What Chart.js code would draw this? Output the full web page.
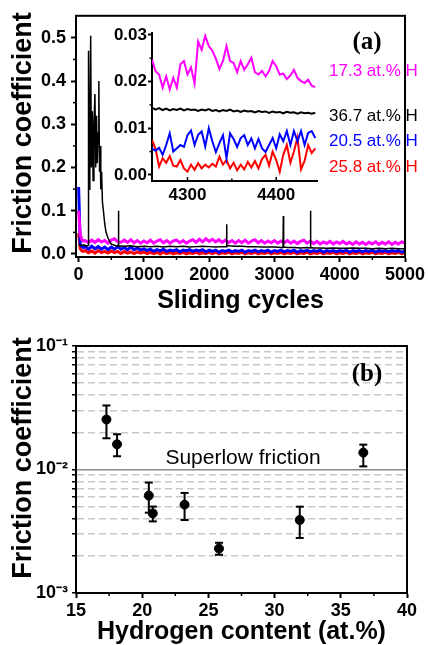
<!DOCTYPE html>
<html>
<head>
<meta charset="utf-8">
<script src="https://cdn.jsdelivr.net/npm/chart.js@4.4.0/dist/chart.umd.min.js"></script>
<style>
  html, body { margin: 0; padding: 0; background: #fff; }
  body { width: 428px; height: 645px; position: relative; overflow: hidden; font-family: "Liberation Sans", Arial, sans-serif; }
  .box { position: absolute; }
  .lbl { position: absolute; white-space: nowrap; line-height: 1; }
  .center { transform: translate(-50%, -50%); }
  .left { transform: translateY(-50%); }
  .ytitle { position: absolute; white-space: nowrap; line-height: 1; font-weight: bold; font-size: 27px; transform: translate(-50%, -50%) rotate(-90deg); }
  .series { font-size: 17px; }
  .panel { font-family: "Liberation Serif", "Times New Roman", serif; font-weight: bold; font-size: 25px; }
</style>
</head>
<body>
<div class="box" style="left:0;top:0"><canvas id="cycles-chart" width="428" height="320"></canvas></div>
<div class="box" style="left:90px;top:18px"><canvas id="inset-chart" width="240" height="190"></canvas></div>
<div class="box" style="left:0;top:320px"><canvas id="hydrogen-chart" width="428" height="325"></canvas></div>

<div class="ytitle" style="left:22px;top:133px">Friction coefficient</div>
<div class="ytitle" style="left:22px;top:458px">Friction coefficient</div>

<div class="lbl panel center" style="left:367px;top:40px">(a)</div>
<div class="lbl panel center" style="left:367px;top:372px">(b)</div>

<div class="lbl series left" style="left:329px;top:70px;color:#ff00ff">17.3 at.% H</div>
<div class="lbl series left" style="left:329px;top:115px;color:#000">36.7 at.% H</div>
<div class="lbl series left" style="left:329px;top:140px;color:#0000ff">20.5 at.% H</div>
<div class="lbl series left" style="left:329px;top:166px;color:#ff0000">25.8 at.% H</div>

<div class="lbl center" style="left:243px;top:456px;font-size:21px">Superlow friction</div>

<script>
const FONT = "'Liberation Sans', Arial, sans-serif";
Chart.defaults.font.family = FONT;
Chart.defaults.color = "#000";

// ---- panel (a): friction vs sliding cycles ----
const mainXTicks = [0, 1000, 2000, 3000, 4000, 5000];
const mainXMinor = [500, 1500, 2500, 3500, 4500];
const mainYTicks = [0, 0.1, 0.2, 0.3, 0.4, 0.5];
const mainYMinor = [0.05, 0.15, 0.25, 0.35, 0.45];

// cycle grid shared by the magenta / blue / red runs
const mainCycles = [0, 25, 50, 75];
for (let c = 100; c <= 5000; c += 50) mainCycles.push(c);

// 17.3 at.% H
const magentaCof = [
  0.100, 0.045, 0.033, 0.030,
  0.031, 0.026, 0.032, 0.027, 0.033, 0.028, 0.031, 0.025, 0.032, 0.035, 0.028, 0.027, 0.032, 0.027, 0.033, 0.026, 0.031, 0.025, 0.030,
  0.026, 0.032, 0.025, 0.030, 0.033, 0.026, 0.031, 0.025, 0.030, 0.032, 0.026, 0.031, 0.025, 0.030, 0.033, 0.027, 0.034, 0.028, 0.035, 0.029,
  0.034, 0.028, 0.033, 0.027, 0.032, 0.026, 0.031, 0.025, 0.031, 0.026, 0.032, 0.025, 0.030, 0.033, 0.026, 0.031, 0.025, 0.030, 0.026, 0.031,
  0.025, 0.030, 0.026, 0.031, 0.025, 0.030, 0.024, 0.029, 0.032, 0.025, 0.030, 0.024, 0.029, 0.023, 0.028, 0.024, 0.029, 0.023, 0.028, 0.024,
  0.029, 0.023, 0.027, 0.022, 0.028, 0.023, 0.027, 0.022, 0.027, 0.023, 0.028, 0.022, 0.027, 0.023, 0.028, 0.022, 0.027, 0.023, 0.028, 0.025
];
// 20.5 at.% H
const blueCof = [
  0.155, 0.022, 0.017, 0.015,
  0.017, 0.011, 0.018, 0.012, 0.017, 0.011, 0.016, 0.010, 0.016, 0.011, 0.017, 0.011, 0.015, 0.010, 0.016, 0.010, 0.014, 0.009, 0.012,
  0.008, 0.011, 0.006, 0.010, 0.007, 0.011, 0.006, 0.009, 0.007, 0.010, 0.005, 0.009, 0.007, 0.010, 0.006, 0.009, 0.007, 0.010, 0.005, 0.009,
  0.006, 0.009, 0.004, 0.008, 0.006, 0.009, 0.005, 0.008, 0.006, 0.009, 0.004, 0.008, 0.006, 0.009, 0.005, 0.008, 0.006, 0.009, 0.004, 0.008,
  0.006, 0.009, 0.005, 0.008, 0.006, 0.009, 0.004, 0.008, 0.006, 0.009, 0.005, 0.008, 0.006, 0.009, 0.004, 0.008, 0.006, 0.008, 0.005, 0.008,
  0.006, 0.009, 0.004, 0.008, 0.006, 0.008, 0.005, 0.008, 0.006, 0.009, 0.004, 0.008, 0.006, 0.008, 0.005, 0.008, 0.006, 0.008, 0.004, 0.007
];
// 25.8 at.% H
const redCof = [
  0.048, 0.012, 0.007, 0.006,
  0.008, 0.003, 0.007, 0.002, 0.008, 0.003, 0.006, 0.002, 0.007, 0.003, 0.006, 0.001, 0.006, 0.002, 0.005, 0.001, 0.005, 0.002, 0.005,
  0.001, 0.004, 0.001, 0.004, 0.000, 0.004, 0.001, 0.004, 0.000, 0.003, 0.001, 0.004, 0.000, 0.003, 0.001, 0.004, 0.000, 0.003, 0.001, 0.004,
  0.001, 0.004, 0.000, 0.003, 0.001, 0.004, 0.000, 0.003, 0.001, 0.004, 0.000, 0.003, 0.001, 0.004, 0.000, 0.003, 0.001, 0.004, 0.000, 0.003,
  0.001, 0.004, 0.000, 0.003, 0.001, 0.004, 0.000, 0.003, 0.001, 0.004, 0.000, 0.003, 0.001, 0.004, 0.000, 0.003, 0.001, 0.004, 0.000, 0.003,
  0.001, 0.004, 0.000, 0.003, 0.001, 0.004, 0.000, 0.003, 0.001, 0.004, 0.000, 0.003, 0.001, 0.004, 0.000, 0.003, 0.001, 0.004, 0.000, 0.003
];
// 36.7 at.% H (running-in peak and spikes)
const blackCycles = [
  0, 40, 80, 120, 145, 152, 160, 172, 185, 195, 210, 222, 235, 250, 262, 275, 285, 298, 310, 320,
  330, 340, 352, 365, 380, 400, 420, 450, 480, 500, 550, 600, 605, 610, 615, 700, 800, 900, 1000, 1100,
  1200, 1300, 1400, 1500, 1600, 1700, 1800, 1900, 2000, 2100, 2200, 2262, 2267, 2272, 2300, 2400, 2500, 2600, 2700, 2800,
  2900, 3000, 3100, 3131, 3136, 3141, 3200, 3300, 3400, 3500, 3547, 3552, 3557, 3600, 3700, 3800, 3900, 4000, 4100, 4200,
  4300, 4400, 4500, 4600, 4700, 4800, 4900, 5000
];
const blackCof = [
  0.022, 0.019, 0.021, 0.018, 0.020, 0.470, 0.150, 0.260, 0.505, 0.200, 0.330, 0.170, 0.300, 0.370, 0.200, 0.320, 0.210, 0.280, 0.400, 0.190,
  0.250, 0.150, 0.190, 0.120, 0.100, 0.070, 0.050, 0.037, 0.028, 0.023, 0.020, 0.018, 0.020, 0.100, 0.019, 0.018, 0.019, 0.017, 0.018, 0.017,
  0.018, 0.016, 0.018, 0.017, 0.018, 0.016, 0.017, 0.018, 0.017, 0.016, 0.017, 0.017, 0.069, 0.020, 0.019, 0.018, 0.018, 0.017, 0.017, 0.016,
  0.016, 0.016, 0.015, 0.015, 0.088, 0.016, 0.015, 0.015, 0.014, 0.015, 0.014, 0.100, 0.015, 0.014, 0.014, 0.013, 0.014, 0.013, 0.013, 0.014,
  0.013, 0.013, 0.012, 0.013, 0.012, 0.013, 0.012, 0.012
];

// ---- inset: zoom on 4260-4446 cycles ----
const insetXTicks = [4300, 4400];
const insetXMinor = [4350];
const insetYTicks = [0, 0.01, 0.02, 0.03];
const insetYMinor = [0.005, 0.015, 0.025];
const insetCycles = [];
for (let c = 4260; c <= 4444; c += 4) insetCycles.push(c);

const insetMagenta = [
  0.0247, 0.0222, 0.0215, 0.0187, 0.0211, 0.0183, 0.0208, 0.0187, 0.0237, 0.0244,
  0.0215, 0.0230, 0.0196, 0.0286, 0.0268, 0.0298, 0.0276, 0.0266, 0.0249, 0.0227,
  0.0244, 0.0276, 0.0244, 0.0240, 0.0220, 0.0244, 0.0225, 0.0237, 0.0251, 0.0220,
  0.0215, 0.0223, 0.0211, 0.0223, 0.0244, 0.0233, 0.0215, 0.0217, 0.0205, 0.0213,
  0.0225, 0.0208, 0.0201, 0.0197, 0.0204, 0.0191, 0.0188
];
const insetBlack = [
  0.0144, 0.0140, 0.0143, 0.0139, 0.0142, 0.0138, 0.0141, 0.0139, 0.0142, 0.0138,
  0.0141, 0.0139, 0.0140, 0.0137, 0.0140, 0.0138, 0.0141, 0.0137, 0.0139, 0.0136,
  0.0139, 0.0137, 0.0140, 0.0136, 0.0138, 0.0135, 0.0138, 0.0136, 0.0137, 0.0134,
  0.0137, 0.0135, 0.0136, 0.0133, 0.0136, 0.0134, 0.0135, 0.0132, 0.0135, 0.0133,
  0.0134, 0.0131, 0.0134, 0.0132, 0.0133, 0.0131, 0.0133
];
const insetBlue = [
  0.0057, 0.0052, 0.0058, 0.0043, 0.0064, 0.0089, 0.0050, 0.0057, 0.0064, 0.0060,
  0.0085, 0.0095, 0.0064, 0.0086, 0.0093, 0.0061, 0.0100, 0.0072, 0.0049, 0.0068,
  0.0085, 0.0036, 0.0089, 0.0077, 0.0060, 0.0079, 0.0085, 0.0064, 0.0078, 0.0057,
  0.0077, 0.0057, 0.0049, 0.0064, 0.0079, 0.0057, 0.0087, 0.0072, 0.0094, 0.0064,
  0.0094, 0.0072, 0.0094, 0.0064, 0.0090, 0.0094, 0.0079
];
const insetRed = [
  0.0075, 0.0056, 0.0018, 0.0036, 0.0026, 0.0040, 0.0020, 0.0018, 0.0032, 0.0014,
  0.0007, 0.0022, 0.0011, 0.0025, 0.0014, 0.0022, 0.0016, 0.0024, 0.0018, 0.0039,
  0.0022, 0.0032, 0.0014, 0.0026, 0.0010, 0.0022, 0.0012, 0.0028, 0.0016, 0.0030,
  0.0014, 0.0034, 0.0043, 0.0020, 0.0050, 0.0032, 0.0007, 0.0043, 0.0064, 0.0026,
  0.0050, 0.0080, 0.0012, 0.0030, 0.0064, 0.0047, 0.0057
];

// ---- panel (b): friction vs hydrogen content ----
const hContent = [17.3, 18.1, 20.5, 20.8, 23.2, 25.8, 31.9, 36.7];
const hCof = [0.0254, 0.0160, 0.00615, 0.00441, 0.00519, 0.00229, 0.0039, 0.0137];
const hCofHigh = [0.0330, 0.0193, 0.00784, 0.00501, 0.00646, 0.00255, 0.0050, 0.0159];
const hCofLow = [0.0179, 0.0128, 0.00447, 0.00380, 0.00390, 0.00204, 0.00279, 0.0106];
const hXTicks = [15, 20, 25, 30, 35, 40];
const hXMinor = [17.5, 22.5, 27.5, 32.5, 37.5];
const hYTicks = [0.001, 0.002, 0.003, 0.004, 0.005, 0.006, 0.007, 0.008, 0.009,
  0.01, 0.02, 0.03, 0.04, 0.05, 0.06, 0.07, 0.08, 0.09, 0.1];
const hYLabels = ["10\u207B\u00B3", "", "", "", "", "", "", "", "",
  "10\u207B\u00B2", "", "", "", "", "", "", "", "", "10\u207B\u00B9"];

const tickFont = { family: FONT, size: 18, weight: "bold" };
const titleFont = { family: FONT, size: 25, weight: "bold" };

function pairs(xs, ys) {
  return xs.map((x, i) => ({ x: x, y: ys[i] }));
}

// draws a closed frame round the plot area
const frameBox = {
  id: "frameBox",
  afterDraw(chart, args, opts) {
    const ctx = chart.ctx;
    const a = chart.chartArea;
    ctx.save();
    ctx.lineWidth = opts.width || 2;
    ctx.strokeStyle = "#000";
    ctx.strokeRect(a.left, a.top, a.right - a.left, a.bottom - a.top);
    ctx.restore();
  }
};

// short extra tick marks (Chart.js has no minor ticks)
const minorTicks = {
  id: "minorTicks",
  afterDraw(chart, args, opts) {
    const ctx = chart.ctx;
    const a = chart.chartArea;
    ctx.save();
    ctx.strokeStyle = "#000";
    ctx.lineWidth = 1.5;
    (opts.marks || []).forEach((m) => {
      const scale = chart.scales[m.axis];
      m.values.forEach((v) => {
        const p = scale.getPixelForValue(v);
        ctx.beginPath();
        if (scale.isHorizontal()) {
          ctx.moveTo(p, a.bottom);
          ctx.lineTo(p, a.bottom + m.dir * m.len);
        } else {
          ctx.moveTo(a.left, p);
          ctx.lineTo(a.left - m.dir * m.len, p);
        }
        ctx.stroke();
      });
    });
    ctx.restore();
  }
};

function axisBase(extra) {
  return Object.assign({
    grid: { drawOnChartArea: false, drawTicks: true, tickLength: 5, tickColor: "#000", tickWidth: 2 },
    border: { color: "#000", width: 2 },
    ticks: { color: "#000", font: tickFont, maxRotation: 0, autoSkip: false }
  }, extra);
}

const plainNumber = (v) => String(v);

// chart for panel (a)
const cyclesChart = new Chart(document.getElementById("cycles-chart"), {
  type: "line",
  data: {
    datasets: [
      { label: "36.7 at.% H", data: pairs(blackCycles, blackCof), borderColor: "#000", borderWidth: 1.5 },
      { label: "17.3 at.% H", data: pairs(mainCycles, magentaCof), borderColor: "#ff00ff", borderWidth: 3 },
      { label: "20.5 at.% H", data: pairs(mainCycles, blueCof), borderColor: "#0000ff", borderWidth: 3 },
      { label: "25.8 at.% H", data: pairs(mainCycles, redCof), borderColor: "#ff0000", borderWidth: 3 }
    ]
  },
  options: {
    responsive: false,
    animation: false,
    elements: { point: { radius: 0 }, line: { tension: 0 } },
    layout: { padding: { left: 0, right: 23, top: 15, bottom: 0 } },
    plugins: {
      legend: { display: false },
      tooltip: { enabled: false },
      minorTicks: { marks: [
        { axis: "x", values: mainXMinor, len: 3, dir: 1 },
        { axis: "y", values: mainYMinor, len: 3, dir: 1 }
      ] }
    },
    scales: {
      x: axisBase({
        type: "linear", min: -40, max: 5000,
        afterBuildTicks: (s) => { s.ticks = mainXTicks.map((v) => ({ value: v })); },
        afterFit: (s) => { s.height = 63; },
        ticks: { color: "#000", font: tickFont, maxRotation: 0, autoSkip: false, padding: 2, callback: plainNumber },
        title: { display: true, text: "Sliding cycles", color: "#000", font: titleFont, padding: { top: 0, bottom: 4 } }
      }),
      y: axisBase({
        type: "linear", min: -0.007, max: 0.551,
        afterBuildTicks: (s) => { s.ticks = mainYTicks.map((v) => ({ value: v })); },
        afterFit: (s) => { s.width = 76; },
        ticks: { color: "#000", font: tickFont, padding: 5, callback: (v) => Number(v).toFixed(1) }
      })
    }
  },
  plugins: [minorTicks, frameBox]
});

// inset chart, laid over panel (a)
const insetChart = new Chart(document.getElementById("inset-chart"), {
  type: "line",
  data: {
    datasets: [
      { label: "36.7 at.% H", data: pairs(insetCycles, insetBlack), borderColor: "#000", borderWidth: 2 },
      { label: "17.3 at.% H", data: pairs(insetCycles, insetMagenta), borderColor: "#ff00ff", borderWidth: 2 },
      { label: "20.5 at.% H", data: pairs(insetCycles, insetBlue), borderColor: "#0000ff", borderWidth: 2 },
      { label: "25.8 at.% H", data: pairs(insetCycles, insetRed), borderColor: "#ff0000", borderWidth: 2 }
    ]
  },
  options: {
    responsive: false,
    animation: false,
    elements: { point: { radius: 0 }, line: { tension: 0 } },
    layout: { padding: { left: 0, right: 13, top: 15, bottom: 0 } },
    plugins: {
      legend: { display: false },
      tooltip: { enabled: false },
      minorTicks: { marks: [
        { axis: "x", values: insetXTicks, len: 4, dir: -1 },
        { axis: "x", values: insetXMinor, len: 2.5, dir: -1 },
        { axis: "y", values: insetYMinor, len: 2.5, dir: 1 }
      ] }
    },
    scales: {
      x: axisBase({
        type: "linear", min: 4260, max: 4446,
        afterBuildTicks: (s) => { s.ticks = insetXTicks.map((v) => ({ value: v })); },
        afterFit: (s) => { s.height = 27; },
        grid: { drawOnChartArea: false, drawTicks: false },
        ticks: { color: "#000", font: { family: FONT, size: 17, weight: "bold" }, maxRotation: 0, autoSkip: false, padding: 4, callback: plainNumber }
      }),
      y: axisBase({
        type: "linear", min: -0.0013, max: 0.0304,
        afterBuildTicks: (s) => { s.ticks = insetYTicks.map((v) => ({ value: v })); },
        afterFit: (s) => { s.width = 62; },
        grid: { drawOnChartArea: false, drawTicks: true, tickLength: 4, tickColor: "#000", tickWidth: 2 },
        ticks: { color: "#000", font: { family: FONT, size: 17, weight: "bold" }, padding: 1, callback: (v) => Number(v).toFixed(2) }
      })
    }
  },
  plugins: [minorTicks]
});

// chart for panel (b): error bars as two-point lines with flat caps
const errorBars = hContent.map((h, i) => ({
  label: "error " + h,
  data: [{ x: h, y: hCofLow[i] }, { x: h, y: hCofHigh[i] }],
  showLine: true,
  borderColor: "#000",
  borderWidth: 2,
  pointStyle: "line",
  pointRadius: 4,
  pointBorderWidth: 2,
  pointBorderColor: "#000"
}));

const hydrogenChart = new Chart(document.getElementById("hydrogen-chart"), {
  type: "scatter",
  data: {
    datasets: [
      { label: "Friction coefficient", data: pairs(hContent, hCof), backgroundColor: "#000", borderColor: "#000", pointRadius: 4.5 }
    ].concat(errorBars)
  },
  options: {
    responsive: false,
    animation: false,
    layout: { padding: { left: 0, right: 21, top: 26, bottom: 0 } },
    plugins: {
      legend: { display: false },
      tooltip: { enabled: false },
      minorTicks: { marks: [{ axis: "x", values: hXMinor, len: 3, dir: 1 }] }
    },
    scales: {
      x: axisBase({
        type: "linear", min: 15, max: 40,
        afterBuildTicks: (s) => { s.ticks = hXTicks.map((v) => ({ value: v })); },
        afterFit: (s) => { s.height = 52; },
        ticks: { color: "#000", font: tickFont, maxRotation: 0, autoSkip: false, padding: 2, callback: plainNumber },
        title: { display: true, text: "Hydrogen content (at.%)", color: "#000", font: { family: FONT, size: 25, weight: "bold", lineHeight: 1 }, padding: { top: 0, bottom: 0 } }
      }),
      y: {
        type: "logarithmic", min: 0.001, max: 0.1,
        afterBuildTicks: (s) => { s.ticks = hYTicks.map((v) => ({ value: v })); },
        afterFit: (s) => { s.width = 76; },
        grid: {
          drawOnChartArea: true, drawTicks: true, tickLength: 4, tickColor: "#000", tickWidth: 1.5,
          lineWidth: 1.5,
          color: (ctx) => (ctx.tick && ctx.tick.value === 0.01 ? "#8a8a8a" : "#c8c8c8")
        },
        border: {
          color: "#000", width: 2,
          dash: (ctx) => (ctx.type !== "tick" || ctx.tick.value === 0.01 ? [] : [7, 4])
        },
        ticks: { color: "#000", font: tickFont, padding: 4, autoSkip: false, callback: (v, i) => hYLabels[i] }
      }
    }
  },
  plugins: [minorTicks, frameBox]
});
</script>
</body>
</html>
